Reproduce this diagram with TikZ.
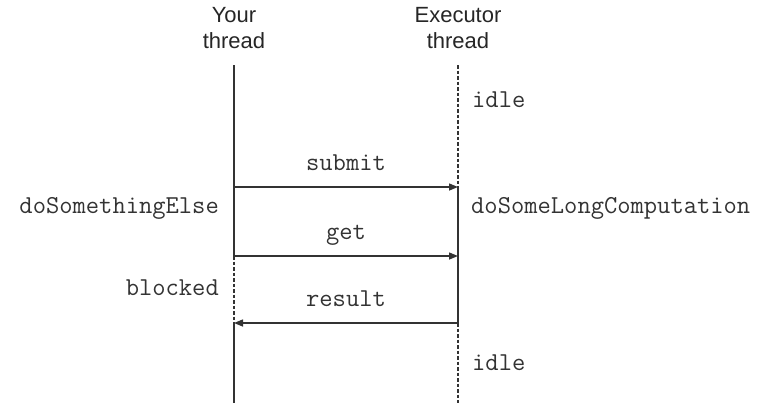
\documentclass[tikz,border=0pt]{standalone}
\usepackage{fontspec}
\setmainfont{Liberation Sans}
\usetikzlibrary{arrows.meta}
\begin{document}
\begin{tikzpicture}[x=1pt,y=-1pt,
  hdr/.style={font=\fontsize{22}{26}\selectfont, inner sep=0pt, anchor=base, text=black!85},
  lbl/.style={font=\ttfamily\fontsize{25.8}{28}\selectfont, inner sep=0pt, text=black!80},
  life/.style={line width=1.4pt, black!80},
  dlife/.style={line width=1.4pt, black!80, dash pattern=on 3.5pt off 2pt},
  msg/.style={line width=1.4pt, black!80, -{Triangle[length=9pt,width=7pt]}}]
\useasboundingbox (0,0) rectangle (776,418);
% headers
\node[hdr] (y1) at (234,22) {Your};
\node[hdr] (y2) at (234,48) {thread};
\node[hdr] (e1) at (458,22) {Executor};
\node[hdr] (e2) at (458,48) {thread};
% lifeline points
\coordinate (LT) at (234,65);
\coordinate (LA) at (234,187);
\coordinate (LB) at (234,256);
\coordinate (LC) at (234,323);
\coordinate (LE) at (234,403);
\coordinate (RT) at (458,65);
\coordinate (RA) at (458,187);
\coordinate (RB) at (458,256);
\coordinate (RC) at (458,323);
\coordinate (RE) at (458,403);
% lifelines
\draw[life] (LT) -- (LB);
\draw[dlife] (LB) -- (LC);
\draw[life] (LC) -- (LE);
\draw[dlife] (RT) -- (RA);
\draw[life] (RA) -- (RC);
\draw[dlife] (RC) -- (RE);
% messages
\draw[msg] (LA) -- (RA);
\draw[msg] (LB) -- (RB);
\draw[msg] (RC) -- (LC);
% labels
\node[lbl, anchor=base] (submit) at (346,170) {submit};
\node[lbl, anchor=base] (get) at (346,239) {get};
\node[lbl, anchor=base] (result) at (346,306) {result};
\node[lbl, anchor=base west] (idle1) at (472,107) {idle};
\node[lbl, anchor=base west] (idle2) at (472,370) {idle};
\node[lbl, anchor=base west] (long) at (471,213) {doSomeLongComputation};
\node[lbl, anchor=base east] (else) at (219,213) {doSomethingElse};
\node[lbl, anchor=base east] (blocked) at (219,295) {blocked};
\end{tikzpicture}
\end{document}
